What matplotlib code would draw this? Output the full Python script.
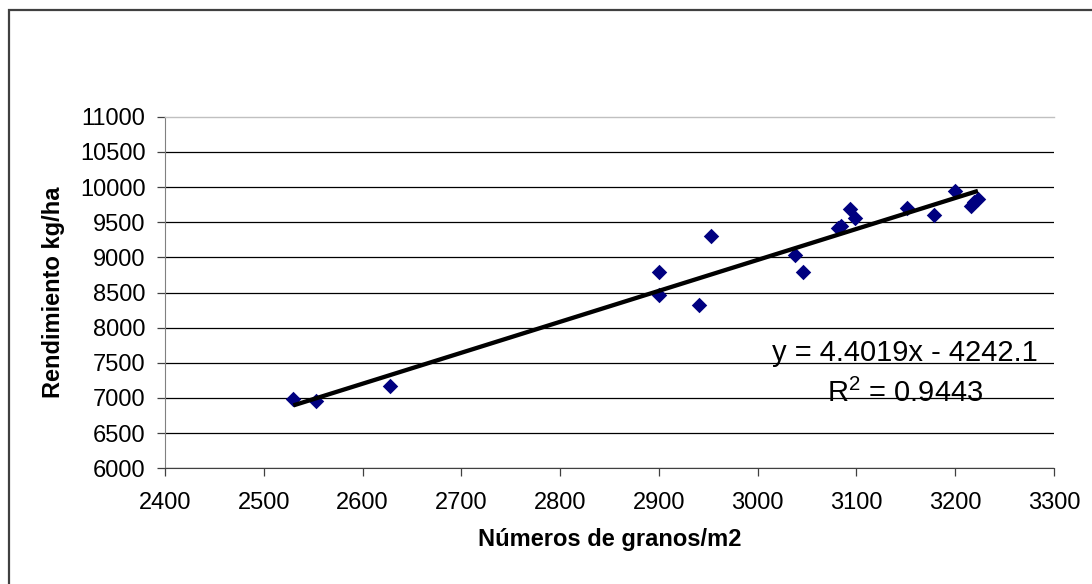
import numpy as np
import matplotlib
matplotlib.use("Agg")
import matplotlib.pyplot as plt
from matplotlib.patches import Rectangle

# datos
granos = [2530, 2553, 2628, 2900, 2900, 2941, 2953, 3038, 3046, 3081, 3084,
          3093, 3099, 3151, 3179, 3200, 3216, 3219, 3223]
rendimiento = [6980, 6950, 7175, 8790, 8465, 8320, 9305, 9035, 8795, 9420, 9440,
               9690, 9560, 9700, 9600, 9940, 9725, 9790, 9830]

pendiente = 4.4019
intercepto = -4242.1
r2 = 0.9443

xticks = np.arange(2400, 3301, 100)
yticks = np.arange(6000, 11001, 500)

plt.rcParams['font.family'] = ['Liberation Sans', 'DejaVu Sans']
plt.rcParams['mathtext.fontset'] = 'custom'
plt.rcParams['mathtext.rm'] = 'Liberation Sans'

W, H = 1092, 584
fig = plt.figure(figsize=(W / 100, H / 100), dpi=100)
ax = fig.add_axes([165 / W, 1 - 468.3 / H, (1054 - 165) / W, (468.3 - 116.7) / H])

# marco exterior del grafico (solo se ven izquierda y arriba)
fig.patches.append(Rectangle((8.5 / W, -0.2), 1.2, 1.2 - 10 / H, transform=fig.transFigure,
                             fill=False, edgecolor='#404040', linewidth=1.6))

for v in yticks[:-1]:
    ax.axhline(v, color='black', linewidth=0.9, zorder=1)

ax.scatter(granos, rendimiento, marker='D', s=62, color='#000080', linewidths=0, zorder=3)

xs = np.array([min(granos), max(granos)])
ax.plot(xs, pendiente * xs + intercepto, color='black', linewidth=3.1, zorder=4,
        solid_capstyle='butt')

ax.set_xlim(2400, 3300)
ax.set_ylim(6000, 11000)
ax.set_xticks(xticks)
ax.set_yticks(yticks)
ax.tick_params(axis='both', direction='out', length=6, width=0.9, labelsize=17,
               colors='#404040', labelcolor='black')
ax.tick_params(axis='x', pad=11)
ax.tick_params(axis='y', pad=8)

ax.spines['right'].set_visible(False)
ax.spines['top'].set_color('#c0c0c0')
ax.spines['top'].set_linewidth(1.0)
ax.spines['left'].set_color('#808080')
ax.spines['bottom'].set_color('#404040')

ax.set_xlabel('Números de granos/m2', fontsize=17, fontweight='bold', labelpad=10)
ax.set_ylabel('Rendimiento kg/ha', fontsize=17, fontweight='bold', labelpad=11)

ax.text(3149, 7640, f'y = {pendiente}x - {abs(intercepto)}', ha='center', va='center',
        fontsize=21, zorder=5)
ax.text(3149, 7060, r'R$^2$ = ' + f'{r2:.4f}', ha='center', va='center', fontsize=21, zorder=5)

fig.savefig('out.png', dpi=100)
